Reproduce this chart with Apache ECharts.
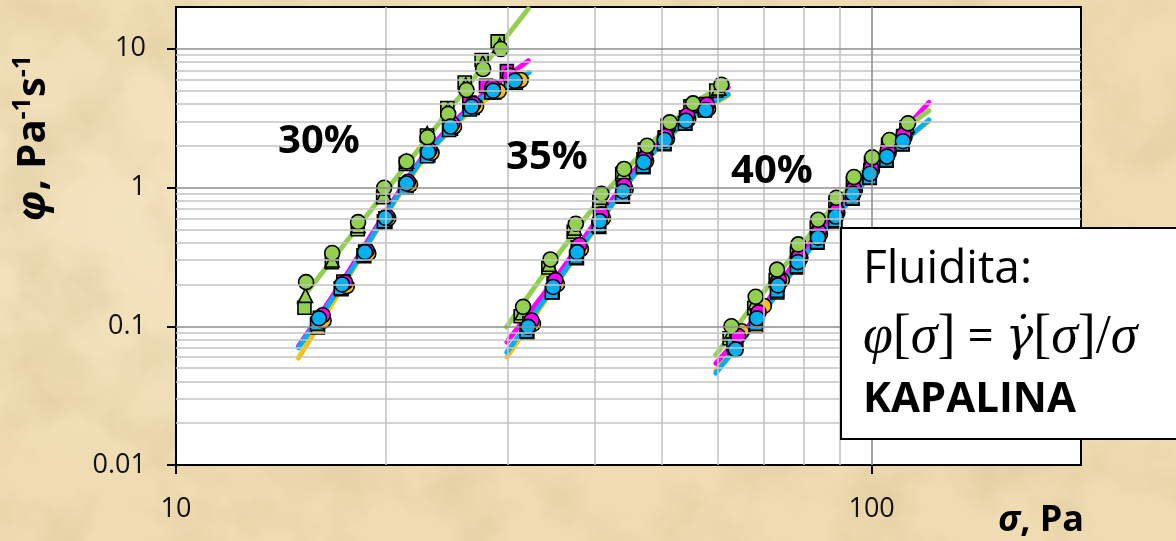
<!DOCTYPE html>
<html>
<head>
<meta charset="utf-8">
<title>Fluidita</title>
<script src="https://cdn.jsdelivr.net/npm/echarts@6/dist/echarts.min.js"></script>
<style>
  html, body { margin: 0; padding: 0; width: 1176px; height: 541px; overflow: hidden; }
  body {
    background-color: #efdcb2;
    background-image:
      url("data:image/svg+xml;utf8,<svg xmlns='http://www.w3.org/2000/svg' width='1176' height='541'><filter id='n'><feTurbulence type='fractalNoise' baseFrequency='0.012' numOctaves='4' seed='7'/><feColorMatrix values='0 0 0 0 0.62  0 0 0 0 0.48  0 0 0 0 0.25  0.9 0 0 0 -0.38'/></filter><rect width='100%' height='100%' filter='url(%23n)'/></svg>"),
      radial-gradient(ellipse at 30% 40%, rgba(248,236,206,0.6), rgba(248,236,206,0) 60%);
  }
  #chart { width: 1176px; height: 541px; }
</style>
</head>
<body>
<div id="chart"></div>
<script>
// ---- axis ticks and grid positions (log scales) ----
const xTicks = [10, 100];
const yTicks = [0.01, 0.1, 1, 10];
const xMinorGrid = [20, 30, 40, 50, 60, 70, 80, 90];
const yMinorGrid = [0.02, 0.03, 0.04, 0.05, 0.06, 0.07, 0.08, 0.09,
                    0.2, 0.3, 0.4, 0.5, 0.6, 0.7, 0.8, 0.9,
                    2, 3, 4, 5, 6, 7, 8, 9];
const xMajorGrid = [100];
const yMajorGrid = [0.1, 1, 10];

// ---- measured points [sigma (Pa), phi (1/(Pa s))] ----
const greenCircle = [
  // 30 %
  [15.38, 0.208], [16.77, 0.337], [18.27, 0.563], [19.92, 0.995], [21.45, 1.54],
  [22.99, 2.30], [24.62, 3.39], [26.16, 5.04], [27.64, 7.14], [29.31, 9.95],
  // 35 %
  [31.55, 0.138], [34.54, 0.303], [37.56, 0.548], [40.9, 0.90], [44.07, 1.36],
  [47.56, 2.0], [51.27, 2.95], [55.38, 4.04], [60.81, 5.51],
  // 40 %
  [62.87, 0.10], [68.13, 0.163], [73.11, 0.256], [78.46, 0.389], [83.75, 0.586],
  [89.0, 0.843], [94.3, 1.19], [100.2, 1.65], [106.1, 2.2], [112.8, 2.9]
];
const greenTriangle = [
  [15.35, 0.167], [16.77, 0.30], [18.27, 0.53], [19.9, 0.90], [21.45, 1.55],
  [22.97, 2.45], [24.6, 3.65], [26.1, 5.5], [27.6, 7.9], [29.2, 10.6],
  [31.45, 0.125], [34.4, 0.28], [37.4, 0.51], [40.8, 0.85], [44.0, 1.3],
  [47.4, 1.95], [51.1, 2.9], [55.2, 4.0], [60.3, 5.2],
  [62.7, 0.088], [68.0, 0.148], [73.0, 0.235], [78.3, 0.36], [83.6, 0.55],
  [88.9, 0.79], [94.2, 1.12], [100.0, 1.57], [105.9, 2.1], [112.5, 2.8]
];
const greenSquare = [
  [15.3, 0.136], [16.75, 0.29], [18.25, 0.50], [19.85, 0.85], [21.4, 1.48],
  [22.95, 2.37], [24.55, 3.74], [26.0, 5.72], [27.5, 8.29], [29.0, 11.3],
  [31.3, 0.118], [34.3, 0.265], [37.3, 0.48], [40.6, 0.80], [43.8, 1.25],
  [47.2, 1.88], [50.9, 2.8], [54.9, 3.85], [59.8, 5.0],
  [62.5, 0.082], [67.8, 0.135], [72.8, 0.215], [78.1, 0.335], [83.4, 0.51],
  [88.7, 0.74], [94.0, 1.06], [99.8, 1.5], [105.6, 2.02], [112.2, 2.7]
];
const blueCircle = [
  [16.05, 0.114], [17.33, 0.200], [18.69, 0.342], [20.0, 0.605], [21.45, 1.07],
  [23.04, 1.80], [24.81, 2.75], [26.6, 3.83], [28.57, 4.99], [30.69, 5.88],
  [32.08, 0.099], [34.84, 0.192], [37.73, 0.342], [40.65, 0.572], [43.93, 0.94],
  [47.04, 1.52], [50.42, 2.2], [54.06, 3.03], [57.74, 3.62],
  [63.77, 0.068], [68.43, 0.114], [73.34, 0.197], [78.36, 0.29], [83.75, 0.435],
  [88.8, 0.618], [94.0, 0.90], [99.5, 1.255], [105.2, 1.67], [110.9, 2.155]
];
const blueSquare = [
  [15.95, 0.104], [17.25, 0.188], [18.6, 0.325], [19.9, 0.57], [21.35, 1.0],
  [22.95, 1.68], [24.7, 2.6], [26.45, 3.65], [28.4, 4.85], [30.3, 5.7],
  [31.9, 0.092], [34.7, 0.176], [37.6, 0.315], [40.5, 0.53], [43.8, 0.87],
  [46.9, 1.42], [50.3, 2.08], [53.9, 2.9], [57.5, 3.8],
  [63.3, 0.074], [68.2, 0.104], [73.1, 0.18], [78.1, 0.27], [83.5, 0.405],
  [88.6, 0.58], [93.8, 0.84], [99.3, 1.18], [105.0, 1.58], [110.7, 2.06]
];
const magentaCircle = [
  [16.25, 0.12], [17.5, 0.207], [18.8, 0.352], [20.1, 0.62], [21.55, 1.1],
  [23.15, 1.86], [24.95, 2.88], [26.75, 4.0], [28.5, 5.3], [30.2, 6.4],
  [32.45, 0.11], [35.1, 0.215], [38.0, 0.385], [40.9, 0.64], [44.1, 1.03],
  [47.2, 1.62], [50.6, 2.35], [54.3, 3.3], [58.0, 3.95],
  [64.3, 0.085], [68.8, 0.126], [73.6, 0.215], [78.7, 0.32], [84.0, 0.48],
  [89.1, 0.68], [94.3, 0.98], [99.8, 1.38], [105.5, 1.85], [111.2, 2.4]
];
const magentaSquare = [
  [16.1, 0.115], [17.4, 0.21], [18.7, 0.345], [20.0, 0.6], [21.4, 1.05],
  [23.0, 1.75], [24.7, 2.8], [26.4, 4.1], [27.9, 5.4], [29.9, 6.9],
  [32.2, 0.105], [34.9, 0.205], [37.8, 0.37], [40.7, 0.62], [43.9, 1.0],
  [47.0, 1.6], [50.4, 2.3], [54.1, 3.2], [57.8, 4.0],
  [63.9, 0.08], [68.5, 0.12], [73.3, 0.2], [78.4, 0.3], [83.8, 0.45],
  [88.9, 0.65], [94.1, 0.95], [99.6, 1.33], [105.3, 1.8], [111.0, 2.35]
];
const orangeCircle = [
  [16.3, 0.11], [17.6, 0.195], [18.9, 0.335], [20.2, 0.6], [21.7, 1.05],
  [23.3, 1.78], [25.1, 2.75], [27.0, 3.85], [29.1, 4.95], [31.3, 5.95],
  [32.6, 0.104], [35.3, 0.2], [38.2, 0.36], [41.1, 0.6], [44.3, 0.97],
  [47.4, 1.55], [50.8, 2.25], [54.5, 3.1], [58.2, 3.7],
  [65.0, 0.092], [70.0, 0.14], [74.3, 0.215], [79.0, 0.31], [84.3, 0.46],
  [89.3, 0.66], [94.6, 0.95], [100.1, 1.33], [105.8, 1.78], [111.5, 2.3]
];
const orangeSquare = [
  [16.0, 0.098], [17.3, 0.185], [18.65, 0.32], [20.0, 0.56], [21.45, 1.0],
  [23.05, 1.7], [24.85, 2.65], [26.7, 3.75], [28.7, 4.85], [30.8, 5.7],
  [32.0, 0.09], [34.8, 0.175], [37.7, 0.31], [40.6, 0.52], [43.9, 0.86],
  [47.0, 1.4], [50.4, 2.05], [54.0, 2.88], [57.6, 3.6],
  [63.5, 0.07], [68.3, 0.1], [73.2, 0.175], [78.2, 0.265], [83.6, 0.4],
  [88.7, 0.57], [93.9, 0.83], [99.4, 1.17], [105.1, 1.56], [110.8, 2.04]
];

// ---- fitted curves, one per concentration ----
const fit30Green   = [[15, 0.147], [32.1, 19.4]];
const fit30Magenta = [[15, 0.072], [17.33, 0.21], [20, 0.66], [22.5, 1.6], [25, 2.9], [27.5, 4.6], [30, 6.4], [32.1, 8.2]];
const fit30Orange  = [[15, 0.059], [17.33, 0.19], [20, 0.62], [22.5, 1.5], [25, 2.7], [27.5, 4.1], [30, 5.3], [32, 6.15]];
const fit30Blue    = [[15, 0.070], [17.33, 0.20], [20, 0.63], [22.5, 1.55], [25, 2.75], [27.5, 4.4], [30, 5.4], [32.2, 6.75]];

const fit35Green   = [[29.87, 0.099], [34.54, 0.275], [40.9, 0.85], [47.56, 1.93], [55.38, 4.0], [62.17, 5.63]];
const fit35Magenta = [[29.9, 0.077], [34.84, 0.21], [40.65, 0.62], [47.04, 1.6], [54.06, 3.2], [62.2, 5.27]];
const fit35Orange  = [[29.9, 0.06], [34.84, 0.185], [40.65, 0.56], [47.04, 1.48], [54.06, 2.95], [62.2, 4.6]];
const fit35Blue    = [[29.9, 0.065], [34.84, 0.19], [40.65, 0.57], [47.04, 1.5], [54.06, 3.0], [62.2, 4.72]];

const fit40Green   = [[59.7, 0.062], [68.13, 0.15], [78.46, 0.36], [89.0, 0.78], [100.2, 1.55], [112.8, 2.75], [120.9, 3.58]];
const fit40Magenta = [[59.7, 0.054], [68.43, 0.12], [78.36, 0.31], [88.8, 0.67], [99.5, 1.4], [110.9, 2.55], [120.9, 4.11]];
const fit40Orange  = [[59.7, 0.048], [68.43, 0.11], [78.36, 0.285], [88.8, 0.61], [99.5, 1.24], [110.9, 2.12], [120.9, 3.0]];
const fit40Blue    = [[59.7, 0.046], [68.43, 0.108], [78.36, 0.28], [88.8, 0.6], [99.5, 1.22], [110.9, 2.1], [120.9, 3.07]];

// ---- styling ----
const SANS = '"Open Sans", "Noto Sans", sans-serif';
const SERIF = '"Liberation Serif", "DejaVu Serif", serif';
const GREEN = '#92d050', MAGENTA = '#ff00ff', ORANGE = '#ffc000', BLUE = '#00b0f0';
const MINOR_GRID = '#c3c3c3', MAJOR_GRID = '#8e8e8e';

const fmt = v => String(Number(Number(v).toPrecision(3)));

function fitLine(data, color) {
  return {
    type: 'line', data, smooth: 0.3, symbol: 'none', showSymbol: false,
    lineStyle: { width: 5, color, cap: 'round' }, z: 2, silent: true
  };
}
function markers(data, color, symbol, size) {
  return {
    type: 'scatter', data, symbol, symbolSize: size, z: 3, silent: true,
    itemStyle: { color, borderColor: '#000', borderWidth: 1.6, opacity: 1 }
  };
}
const gridLine = (axis, v, color) => ({ [axis]: v, lineStyle: { color, width: 1.6, type: 'solid' } });

const chart = echarts.init(document.getElementById('chart'), null, { renderer: 'canvas' });

chart.setOption({
  animation: false,
  backgroundColor: 'transparent',
  grid: {
    left: 176, right: 95, top: 7, bottom: 76,
    show: true, backgroundColor: '#ffffff', borderColor: '#000', borderWidth: 2
  },
  xAxis: {
    type: 'log', logBase: 10, min: 10, max: 200, z: 4,
    axisLine: { show: true, onZero: false, lineStyle: { color: '#000', width: 2 } },
    axisTick: { show: true, inside: false, length: 9, customValues: xTicks, lineStyle: { color: '#000', width: 2 } },
    axisLabel: { customValues: xTicks, margin: 31, fontFamily: SANS, fontSize: 27, color: '#111', formatter: fmt },
    splitLine: { show: false }, minorTick: { show: false }, minorSplitLine: { show: false }
  },
  yAxis: {
    type: 'log', logBase: 10, min: 0.01, max: 20, z: 4,
    axisLine: { show: true, onZero: false, lineStyle: { color: '#000', width: 2 } },
    axisTick: { show: true, inside: false, length: 9, customValues: yTicks, lineStyle: { color: '#000', width: 2 } },
    axisLabel: { customValues: yTicks, margin: 30, fontFamily: SANS, fontSize: 27, color: '#111', formatter: fmt },
    splitLine: { show: false }, minorTick: { show: false }, minorSplitLine: { show: false }
  },
  series: [
    {
      // gridlines of the log-log plot
      type: 'line', data: [], z: 1, silent: true,
      markLine: {
        silent: true, symbol: ['none', 'none'], label: { show: false }, animation: false,
        data: [
          ...xMinorGrid.map(v => gridLine('xAxis', v, MINOR_GRID)),
          ...yMinorGrid.map(v => gridLine('yAxis', v, MINOR_GRID)),
          ...xMajorGrid.map(v => gridLine('xAxis', v, MAJOR_GRID)),
          ...yMajorGrid.map(v => gridLine('yAxis', v, MAJOR_GRID))
        ]
      }
    },
    fitLine(fit30Orange, ORANGE), fitLine(fit30Magenta, MAGENTA), fitLine(fit30Blue, BLUE), fitLine(fit30Green, GREEN),
    fitLine(fit35Orange, ORANGE), fitLine(fit35Magenta, MAGENTA), fitLine(fit35Blue, BLUE), fitLine(fit35Green, GREEN),
    fitLine(fit40Orange, ORANGE), fitLine(fit40Magenta, MAGENTA), fitLine(fit40Blue, BLUE), fitLine(fit40Green, GREEN),
    markers(greenSquare, GREEN, 'rect', 13),
    markers(greenTriangle, GREEN, 'triangle', 14),
    markers(orangeSquare, ORANGE, 'rect', 13),
    markers(magentaSquare, MAGENTA, 'rect', 13),
    markers(blueSquare, BLUE, 'rect', 13),
    markers(orangeCircle, ORANGE, 'circle', 15),
    markers(magentaCircle, MAGENTA, 'circle', 15),
    markers(greenCircle, GREEN, 'circle', 15),
    markers(blueCircle, BLUE, 'circle', 15)
  ],
  graphic: [
    {
      type: 'text', x: 34, y: 138, rotation: Math.PI / 2, z: 50,
      style: {
        text: '{p|φ}{b|, Pa}{s|-1}{b|s}{s|-1}',
        align: 'center', verticalAlign: 'middle',
        rich: {
          p: { fontFamily: SANS, fontSize: 40, fontWeight: 'bold', fontStyle: 'italic', lineHeight: 48, fill: '#000' },
          b: { fontFamily: SANS, fontSize: 40, fontWeight: 'bold', lineHeight: 48, fill: '#000' },
          s: { fontFamily: SANS, fontSize: 25, fontWeight: 'bold', lineHeight: 30, verticalAlign: 'top', fill: '#000' }
        }
      }
    },
    {
      type: 'text', x: 1041, y: 521, z: 50,
      style: {
        text: '{i|σ}{b|, Pa}', align: 'center', verticalAlign: 'middle',
        rich: {
          i: { fontFamily: SANS, fontSize: 36, fontWeight: 'bold', fontStyle: 'italic', fill: '#000' },
          b: { fontFamily: SANS, fontSize: 36, fontWeight: 'bold', fill: '#000' }
        }
      }
    },
    { type: 'text', x: 319, y: 142, z: 50, style: { text: '30%', font: 'bold 40px ' + SANS, fill: '#000', align: 'center', verticalAlign: 'middle' } },
    { type: 'text', x: 547, y: 158, z: 50, style: { text: '35%', font: 'bold 40px ' + SANS, fill: '#000', align: 'center', verticalAlign: 'middle' } },
    { type: 'text', x: 772, y: 172, z: 50, style: { text: '40%', font: 'bold 40px ' + SANS, fill: '#000', align: 'center', verticalAlign: 'middle' } },
    // caption box drawn over the plot
    { type: 'rect', z: 100, shape: { x: 841, y: 228, width: 345, height: 211 }, style: { fill: '#fff', stroke: '#000', lineWidth: 2 } },
    { type: 'text', z: 101, x: 863, y: 270, style: { text: 'Fluidita:', font: 'normal 500 46px ' + SANS, fill: '#000', align: 'left', verticalAlign: 'middle' } },
    {
      type: 'text', z: 101, x: 863, y: 338,
      style: {
        text: '{m|φ}{r|[}{m|σ}{r|]}{s| = }{g|γ̇}{r|[}{m|σ}{r|]/}{m|σ}',
        align: 'left', verticalAlign: 'middle',
        rich: {
          m: { fontFamily: SERIF, fontSize: 54, fontStyle: 'italic', fill: '#000' },
          g: { fontFamily: '"DejaVu Serif", serif', fontSize: 46, fontStyle: 'italic', fill: '#000' },
          r: { fontFamily: SERIF, fontSize: 54, fill: '#000' },
          s: { fontFamily: SANS, fontSize: 46, fill: '#000' }
        }
      }
    },
    { type: 'text', z: 101, x: 863, y: 400, style: { text: 'KAPALINA', font: 'bold 42px ' + SANS, fill: '#000', align: 'left', verticalAlign: 'middle' } }
  ]
});
</script>
</body>
</html>
